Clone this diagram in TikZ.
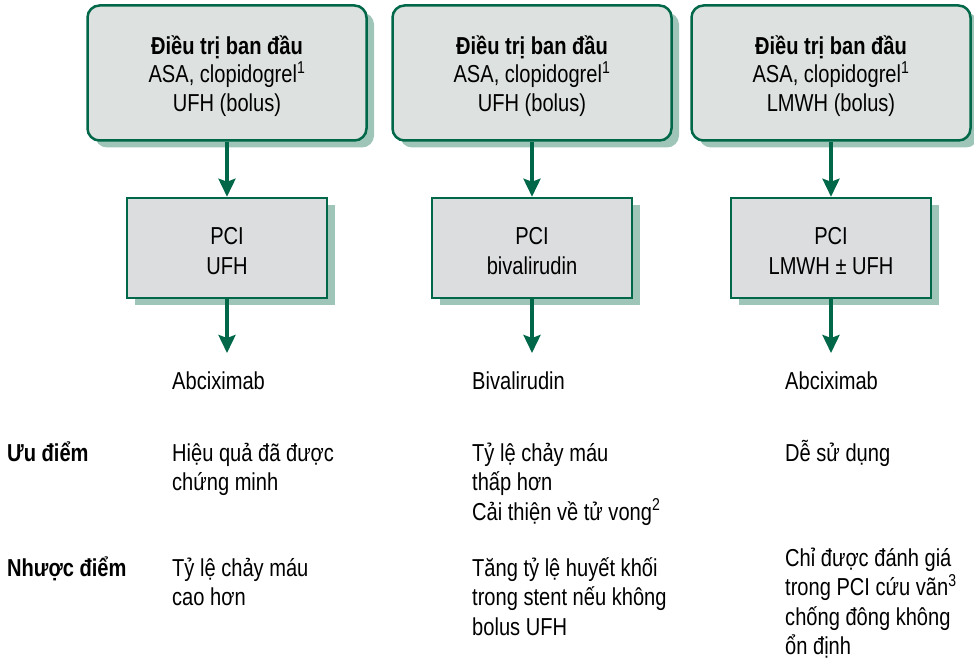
\documentclass[tikz,border=0pt]{standalone}
\usepackage{fontspec}
\setmainfont[FakeStretch=0.82]{Liberation Sans}
\usetikzlibrary{arrows.meta,shadows}

\definecolor{edgegreen}{RGB}{0,104,72}
\definecolor{shadowgreen}{RGB}{158,197,184}
\definecolor{topfill}{RGB}{221,225,223}
\definecolor{pcifill}{RGB}{220,221,223}

\begin{document}
\begin{tikzpicture}[x=1pt,y=-1pt,
  font=\fontsize{24.5}{28.5}\selectfont,
  boxshadow/.style={general shadow={fill=shadowgreen, shadow xshift=7.5pt, shadow yshift=-7pt}},
  topbox/.style={boxshadow, draw=edgegreen, line width=2.5pt, fill=topfill,
    rounded corners=12pt, minimum width=279pt, minimum height=135pt, inner sep=0pt},
  pcibox/.style={boxshadow, draw=edgegreen, line width=2.5pt, fill=pcifill,
    minimum width=200pt, minimum height=100pt, inner sep=0pt},
  boxtext/.style={inner sep=0pt, yshift=-3pt, align=center},
  toplines/.style={label={[boxtext]center:{#1}}},
  pcilines/.style={label={[boxtext, font=\fontsize{24.5}{30}\selectfont]center:{#1}}},
  flow/.style={draw=edgegreen, line width=3.5pt,
    -{Stealth[length=18pt, width=17pt, inset=3pt]}},
  drug/.style={anchor=base west, inner sep=0pt},
  celltext/.style={anchor=base west, inner sep=0pt, text width=230pt, align=flush left,
    font=\fontsize{24.5}{29.5}\selectfont},
  rowhead/.style={anchor=base west, inner sep=0pt, font=\fontsize{24.5}{29}\selectfont\bfseries}
]
\useasboundingbox (0,0) rectangle (974,663);

% initial treatment boxes
\node[topbox, toplines={\textbf{Điều trị ban đầu}\\ASA, clopidogrel\textsuperscript{1}\\UFH (bolus)}] (top1) at (227,73) {};
\node[topbox, toplines={\textbf{Điều trị ban đầu}\\ASA, clopidogrel\textsuperscript{1}\\UFH (bolus)}] (top2) at (532,73) {};
\node[topbox, toplines={\textbf{Điều trị ban đầu}\\ASA, clopidogrel\textsuperscript{1}\\LMWH (bolus)}] (top3) at (831,73) {};

% PCI boxes
\node[pcibox, pcilines={PCI\\UFH}] (pci1) at (227,248) {};
\node[pcibox, pcilines={PCI\\bivalirudin}] (pci2) at (532,248) {};
\node[pcibox, pcilines={PCI\\LMWH ± UFH}] (pci3) at (831,248) {};

% arrow ends above the drug names
\coordinate (end1) at (227,353);
\coordinate (end2) at (532,353);
\coordinate (end3) at (831,353);

\draw[flow] (top1.south) -- (pci1.north);
\draw[flow] (top2.south) -- (pci2.north);
\draw[flow] (top3.south) -- (pci3.north);
\draw[flow] (pci1.south) -- (end1);
\draw[flow] (pci2.south) -- (end2);
\draw[flow] (pci3.south) -- (end3);

% drug names
\node[drug] (drug1) at (172,389) {Abciximab};
\node[drug] (drug2) at (472,389) {Bivalirudin};
\node[drug] (drug3) at (785,389) {Abciximab};

% row headings
\node[rowhead] (pro) at (7,461) {Ưu điểm};
\node[rowhead] (con) at (7,576) {Nhược điểm};

% advantages
\node[celltext] (pro1) at (172,461) {Hiệu quả đã được\\chứng minh};
\node[celltext] (pro2) at (472,461) {Tỷ lệ chảy máu\\thấp hơn\\Cải thiện về tử vong\textsuperscript{2}};
\node[celltext] (pro3) at (785,461) {Dễ sử dụng};

% disadvantages
\node[celltext] (con1) at (172,576) {Tỷ lệ chảy máu\\cao hơn};
\node[celltext] (con2) at (472,576) {Tăng tỷ lệ huyết khối\\trong stent nếu không\\bolus UFH};
\node[celltext, text width=185pt] (con3) at (785,566) {Chỉ được đánh giá\\trong PCI cứu vãn\textsuperscript{3}\\chống đông không\\ổn định};
\end{tikzpicture}
\end{document}
